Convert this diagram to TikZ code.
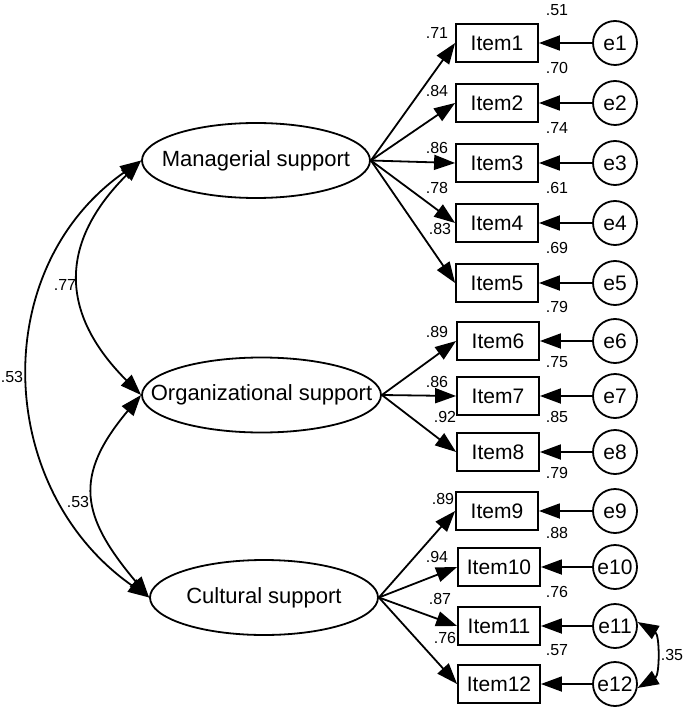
\documentclass[tikz,border=0pt]{standalone}
\usepackage{fontspec}
\setmainfont{Liberation Sans}
\usetikzlibrary{shapes.geometric,arrows.meta}

\begin{document}
\begin{tikzpicture}[x=1pt,y=1pt,line width=1.8pt,
    >={Triangle[length=21pt,width=15pt]},
    latent/.style={draw,ellipse,inner sep=0pt,minimum height=75pt},
    item/.style={draw,rectangle,inner sep=0pt,minimum width=82pt,minimum height=38pt,
      font=\fontsize{21}{24}\selectfont},
    err/.style={draw,circle,inner sep=0pt,minimum size=44pt,
      font=\fontsize{21}{24}\selectfont},
    est/.style={inner sep=0pt,font=\fontsize{16}{18}\selectfont},
    every label/.style={inner sep=0pt,font=\fontsize{22}{26}\selectfont}]
  \useasboundingbox (0,0) rectangle (685,-708);
  % latent factors
  \draw
    (256,-160.5) node[latent,minimum width=228pt,label=center:Managerial support] (man){}
    (261.5,-395) node[latent,minimum width=239pt,label=center:Organizational support] (org){}
    (264,-597.5) node[latent,minimum width=228pt,label=center:Cultural support] (cul){};
  % observed items
  \draw
    (497,-43) node[item] (i1){Item1}
    (497,-103) node[item] (i2){Item2}
    (497,-163) node[item] (i3){Item3}
    (497,-223) node[item] (i4){Item4}
    (497,-283) node[item] (i5){Item5}
    (498,-341) node[item] (i6){Item6}
    (498,-396) node[item] (i7){Item7}
    (498,-452) node[item] (i8){Item8}
    (497,-511) node[item] (i9){Item9}
    (499,-567) node[item] (i10){Item10}
    (499,-626) node[item] (i11){Item11}
    (499,-684) node[item] (i12){Item12};
  % error terms
  \draw
    (615,-43) node[err] (e1){e1}
    (615,-103) node[err] (e2){e2}
    (615,-163) node[err] (e3){e3}
    (615,-223) node[err] (e4){e4}
    (615,-283) node[err] (e5){e5}
    (615,-341) node[err] (e6){e6}
    (615,-396) node[err] (e7){e7}
    (615,-452) node[err] (e8){e8}
    (615,-511) node[err] (e9){e9}
    (615,-567) node[err] (e10){e10}
    (615,-626) node[err] (e11){e11}
    (615,-684) node[err] (e12){e12};
  % loadings
  \begin{scope}[->]
    \draw (man.east) to (i1.west);
    \draw (man.east) to (i2.west);
    \draw (man.east) to (i3.west);
    \draw (man.east) to (i4.west);
    \draw (man.east) to (i5.west);
    \draw (org.east) to (i6.west);
    \draw (org.east) to (i7.west);
    \draw (org.east) to (i8.west);
    \draw (cul.east) to (i9.west);
    \draw (cul.east) to (i10.west);
    \draw (cul.east) to (i11.west);
    \draw (cul.east) to (i12.west);
  \end{scope}
  % errors
  \begin{scope}[->]
    \draw (e1) to (i1);
    \draw (e2) to (i2);
    \draw (e3) to (i3);
    \draw (e4) to (i4);
    \draw (e5) to (i5);
    \draw (e6) to (i6);
    \draw (e7) to (i7);
    \draw (e8) to (i8);
    \draw (e9) to (i9);
    \draw (e10) to (i10);
    \draw (e11) to (i11);
    \draw (e12) to (i12);
  \end{scope}
  % covariances
  \begin{scope}[<->]
    \draw (man.west) to[out=225,in=135,looseness=1.27] (org.west);
    \draw (man.west) to[out=215,in=145,looseness=1.1] (cul.west);
    \draw (org.west) to[out=230,in=130,looseness=1.34] (cul.west);
    \draw (e11.10) to[out=-30,in=30,looseness=1] (e12.-10);
  \end{scope}
  % estimates
  \draw
    (65,-285) node[est] (c1){.77}
    (12,-377) node[est] (c2){.53}
    (78,-502) node[est] (c3){.53}
    (672,-655) node[est] (c4){.35};
  \draw
    (437,-33) node[est] (l1){.71}
    (437,-91) node[est] (l2){.84}
    (437,-148) node[est] (l3){.86}
    (437,-188) node[est] (l4){.78}
    (440,-229) node[est] (l5){.83}
    (437,-332) node[est] (l6){.89}
    (437,-382) node[est] (l7){.86}
    (445,-417) node[est] (l8){.92}
    (443,-499) node[est] (l9){.89}
    (437,-557) node[est] (l10){.94}
    (440,-599) node[est] (l11){.87}
    (445,-638) node[est] (l12){.76};
  \draw
    (557,-10) node[est] (r1){.51}
    (557,-68) node[est] (r2){.70}
    (557,-128) node[est] (r3){.74}
    (557,-188) node[est] (r4){.61}
    (557,-248) node[est] (r5){.69}
    (557,-307) node[est] (r6){.79}
    (557,-362) node[est] (r7){.75}
    (557,-417) node[est] (r8){.85}
    (557,-473) node[est] (r9){.79}
    (557,-533) node[est] (r10){.88}
    (557,-592) node[est] (r11){.76}
    (557,-650) node[est] (r12){.57};
\end{tikzpicture}
\end{document}
